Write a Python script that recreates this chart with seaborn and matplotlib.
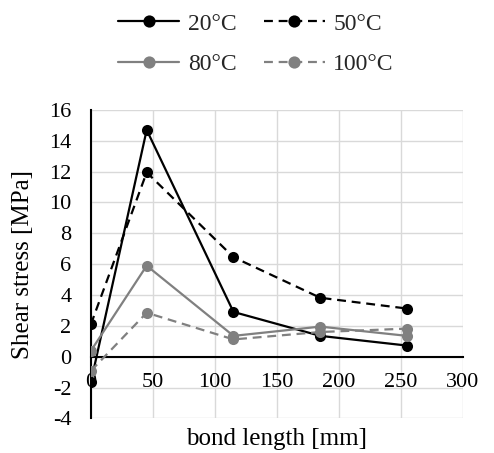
import matplotlib
matplotlib.use("Agg")
import matplotlib.pyplot as plt
import seaborn as sns
import pandas as pd

# bond length positions [mm]
bond_length = [0, 45, 115, 185, 255]

# shear stress [MPa] per test temperature
stress_20 = [-1.65, 14.7, 2.9, 1.35, 0.72]
stress_50 = [2.1, 11.95, 6.45, 3.82, 3.12]
stress_80 = [0.38, 5.9, 1.35, 1.95, 1.35]
stress_100 = [-0.92, 2.85, 1.12, 1.6, 1.82]

labels = ["20°C", "50°C", "80°C", "100°C"]
series = [stress_20, stress_50, stress_80, stress_100]

x_ticks = [0, 50, 100, 150, 200, 250, 300]
y_ticks = [-4, -2, 0, 2, 4, 6, 8, 10, 12, 14, 16]

rows = []
for lab, vals in zip(labels, series):
    for x, y in zip(bond_length, vals):
        rows.append({"bond length": x, "stress": y, "temp": lab})
df = pd.DataFrame(rows)

sns.set_theme(style="white")
plt.rcParams["font.family"] = ["Liberation Serif", "DejaVu Serif"]
plt.rcParams["axes.unicode_minus"] = False

fig = plt.figure(figsize=(4.94, 4.53), dpi=100)
ax = fig.add_axes([0.184, 0.0764, 0.753, 0.681])

palette = {"20°C": "black", "50°C": "black", "80°C": "#808080", "100°C": "#808080"}
dashes = {"20°C": "", "50°C": (4, 2.6), "80°C": "", "100°C": (4, 2.6)}

sns.lineplot(data=df, x="bond length", y="stress", hue="temp", style="temp",
             hue_order=labels, style_order=labels, palette=palette,
             dashes=dashes, markers={l: "o" for l in labels},
             markersize=8, markeredgewidth=0, linewidth=1.6, ax=ax,
             legend="full", zorder=3)

ax.set_xlim(0, 300)
ax.set_ylim(-4, 16)
ax.set_xticks(x_ticks)
ax.set_yticks(y_ticks)
ax.grid(True, color="#d9d9d9", linewidth=1.0)
ax.set_axisbelow(True)

for side in ["top", "right"]:
    ax.spines[side].set_visible(False)
ax.spines["bottom"].set_position(("data", 0))
ax.spines["left"].set_position(("data", 0))
for side in ["bottom", "left"]:
    ax.spines[side].set_color("black")
    ax.spines[side].set_linewidth(1.5)
    ax.spines[side].set_zorder(2)

ax.tick_params(axis="both", length=0, labelsize=16, colors="black")
ax.tick_params(axis="x", pad=12)
ax.tick_params(axis="y", pad=14)

ax.set_xlabel("bond length [mm]", fontsize=18, color="black")
ax.set_ylabel("Shear stress [MPa]", fontsize=18, color="black")
ax.xaxis.set_label_coords(0.5, -0.03)
ax.yaxis.set_label_coords(-0.152, 0.5)

# two rows: 20/50 on top, 80/100 below (legend fills column-wise)
handles, lbls = ax.get_legend_handles_labels()
ax.get_legend().remove()
order = [0, 2, 1, 3]
fig.legend([handles[i] for i in order], [lbls[i] for i in order],
           loc="upper center", bbox_to_anchor=(0.518, 1.018),
           ncol=2, frameon=False, fontsize=17, handlelength=2.6,
           labelspacing=0.8, columnspacing=1.15, handletextpad=0.36,
           markerscale=1.1)

fig.savefig("out.png", dpi=100)
